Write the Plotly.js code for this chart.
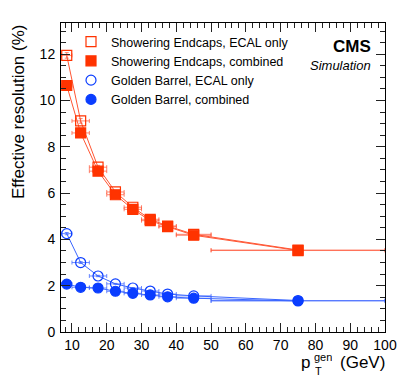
<!DOCTYPE html>
<html>
<head>
<meta charset="utf-8">
<script src="https://cdn.plot.ly/plotly-3.0.1.min.js"></script>
<style>html,body{margin:0;padding:0;background:#fff;}#chart{width:407px;height:383px;}</style>
</head>
<body>
<div id="chart"></div>
<script>
// ---- data ----
const ptCenters = [8.5, 12.5, 17.5, 22.5, 27.5, 32.5, 37.5, 45, 75];
const ptHalfWidths = [1.5, 2.5, 2.5, 2.5, 2.5, 2.5, 2.5, 5, 25];

const endcapEcalOnly = [11.95, 9.12, 7.12, 6.05, 5.39, 4.87, 4.58, 4.22, 3.54];
const endcapEcalOnlyErr = [0.12, 0.1, 0.08, 0.06, 0.05, 0.05, 0.04, 0.03, 0.02];
const endcapCombined = [10.65, 8.6, 6.95, 5.93, 5.3, 4.81, 4.55, 4.18, 3.52];
const endcapCombinedErr = [0.1, 0.08, 0.07, 0.05, 0.05, 0.04, 0.04, 0.03, 0.02];

const barrelEcalOnly = [4.25, 3.0, 2.42, 2.08, 1.9, 1.77, 1.64, 1.56, 1.36];
const barrelEcalOnlyErr = [0.05, 0.04, 0.03, 0.02, 0.02, 0.02, 0.02, 0.01, 0.01];
const barrelCombined = [2.07, 1.93, 1.9, 1.76, 1.67, 1.6, 1.52, 1.46, 1.34];
const barrelCombinedErr = [0.03, 0.02, 0.02, 0.02, 0.02, 0.01, 0.01, 0.01, 0.01];

const seriesNames = [
  "Showering Endcaps, ECAL only",
  "Showering Endcaps, combined",
  "Golden Barrel, ECAL only",
  "Golden Barrel, combined"
];
const xTickVals = [10, 20, 30, 40, 50, 60, 70, 80, 90, 100];
const yTickVals = [0, 2, 4, 6, 8, 10, 12];

// ---- styling ----
const RED = "#ff3300", RED_LINE = "#ff5533", RED_ERR = "rgba(255,90,60,0.75)";
const BLUE = "#0a3dff", BLUE_LINE = "#3a66ff", BLUE_ERR = "rgba(60,100,255,0.75)";

function lineTrace(y, yerr, lc, ec) {
  return {
    x: ptCenters, y: y, type: "scatter", mode: "lines", showlegend: false,
    line: {color: lc, width: 1},
    error_x: {type: "data", array: ptHalfWidths, color: ec, thickness: 1, width: 2},
    error_y: {type: "data", array: yerr, color: ec, thickness: 1, width: 2},
    hoverinfo: "skip"
  };
}
function markerTrace(y, name, sym, col, sz) {
  return {
    x: ptCenters, y: y, type: "scatter", mode: "markers", name: name,
    marker: {symbol: sym, color: col, size: sz, line: {color: col, width: 1.2}}
  };
}

const data = [
  lineTrace(endcapEcalOnly, endcapEcalOnlyErr, RED_LINE, RED_ERR),
  lineTrace(endcapCombined, endcapCombinedErr, RED_LINE, RED_ERR),
  lineTrace(barrelEcalOnly, barrelEcalOnlyErr, BLUE_LINE, BLUE_ERR),
  lineTrace(barrelCombined, barrelCombinedErr, BLUE_LINE, BLUE_ERR),
  markerTrace(endcapEcalOnly, seriesNames[0], "square-open", RED, 10),
  markerTrace(endcapCombined, seriesNames[1], "square", RED, 10),
  markerTrace(barrelEcalOnly, seriesNames[2], "circle-open", BLUE, 10),
  markerTrace(barrelCombined, seriesNames[3], "circle", BLUE, 10)
];

const L = 61, R = 22, T = 23, B = 51, W = 407, H = 383;
const pw = W - L - R, ph = H - T - B;
const px = X => (X - L) / pw;
const py = Y => (H - B - Y) / ph;

const FONT = "Liberation Sans, Arial, Helvetica, sans-serif";
const axisCommon = {
  showgrid: false, zeroline: false, showline: true, linecolor: "#000", linewidth: 1,
  mirror: "ticks", ticks: "inside", ticklen: 9, tickcolor: "#222", tickwidth: 1,
  tickfont: {family: FONT, size: 14, color: "#000"}
};

const layout = {
  width: W, height: H,
  margin: {l: L, r: R, t: T, b: B, pad: 0},
  paper_bgcolor: "#fff", plot_bgcolor: "#fff",
  font: {family: FONT, color: "#000"},
  xaxis: Object.assign({}, axisCommon, {
    range: [6.85, 100], tickmode: "array", tickvals: xTickVals,
    minor: {dtick: 2, tick0: 0, ticks: "inside", ticklen: 5, tickcolor: "#222", showgrid: false}
  }),
  yaxis: Object.assign({}, axisCommon, {
    range: [0, 13.35], tickmode: "array", tickvals: yTickVals, ticklabelstandoff: 2,
    minor: {dtick: 0.5, tick0: 0, ticks: "inside", ticklen: 5, tickcolor: "#222", showgrid: false}
  }),
  showlegend: true,
  legend: {
    x: px(71), y: py(27), xanchor: "left", yanchor: "top",
    bgcolor: "rgba(0,0,0,0)", borderwidth: 0,
    font: {family: FONT, size: 12.5, color: "#000"},
    itemwidth: 30
  },
  annotations: [
    {text: "<b>CMS</b>", xref: "paper", yref: "paper", x: px(373), y: py(46),
     xanchor: "right", yanchor: "middle", showarrow: false,
     font: {family: FONT, size: 17, color: "#000"}},
    {text: "<i>Simulation</i>", xref: "paper", yref: "paper", x: px(373), y: py(65),
     xanchor: "right", yanchor: "middle", showarrow: false,
     font: {family: FONT, size: 13, color: "#000"}},
    {text: "Effective resolution (%)", xref: "paper", yref: "paper", x: px(18), y: py(23),
     xanchor: "center", yanchor: "top", textangle: -90, showarrow: false,
     font: {family: FONT, size: 17, color: "#000"}},
    {text: "p", xref: "paper", yref: "paper", x: px(312), y: py(362),
     xanchor: "right", yanchor: "middle", showarrow: false,
     font: {family: FONT, size: 17, color: "#000"}},
    {text: "gen", xref: "paper", yref: "paper", x: px(312), y: py(356),
     xanchor: "left", yanchor: "middle", showarrow: false, height: 13,
     font: {family: FONT, size: 11, color: "#000"}},
    {text: "T", xref: "paper", yref: "paper", x: px(313), y: py(371),
     xanchor: "left", yanchor: "middle", showarrow: false, height: 12,
     font: {family: FONT, size: 11, color: "#000"}},
    {text: "(GeV)", xref: "paper", yref: "paper", x: px(387), y: py(362),
     xanchor: "right", yanchor: "middle", showarrow: false,
     font: {family: FONT, size: 17, color: "#000"}}
  ]
};

Plotly.newPlot("chart", data, layout, {displayModeBar: false, staticPlot: true});
</script>
</body>
</html>
